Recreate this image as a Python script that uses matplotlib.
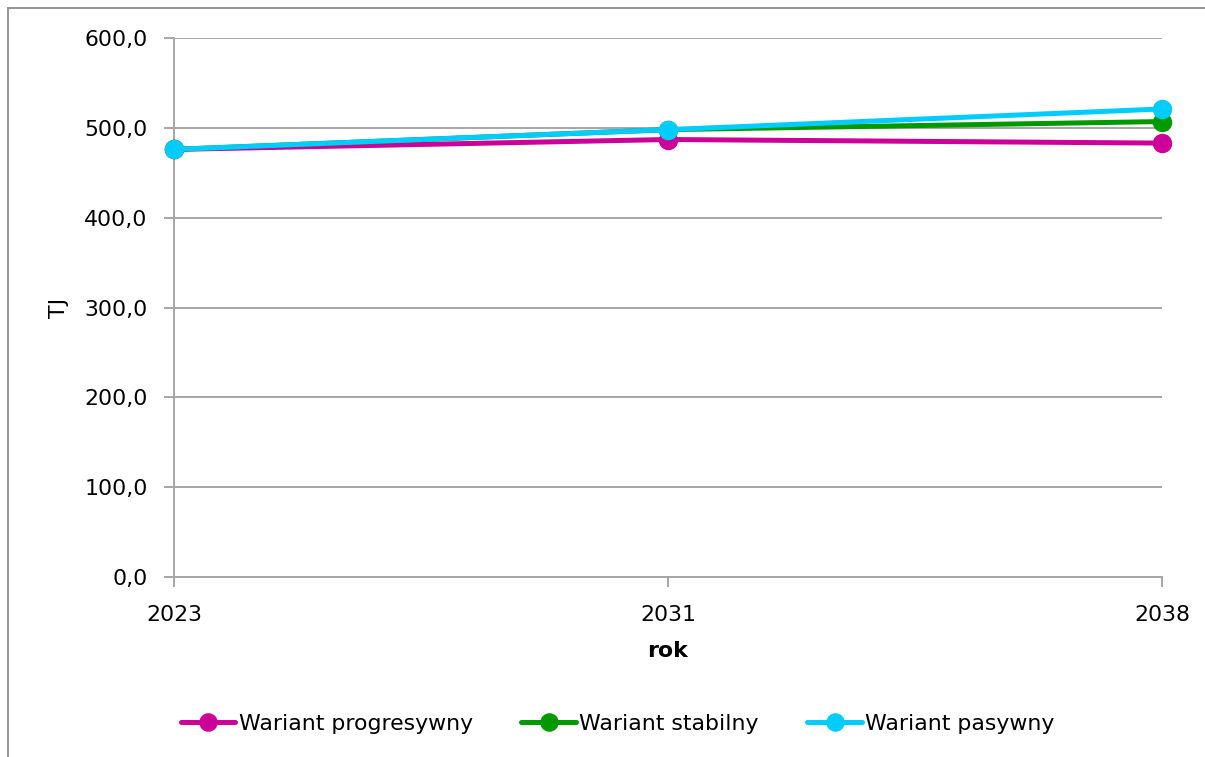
import matplotlib
matplotlib.use('Agg')
import matplotlib.pyplot as plt
from matplotlib.lines import Line2D

years = ['2023', '2031', '2038']
progresywny = [476.0, 487.0, 483.0]
stabilny = [476.0, 498.0, 507.0]
pasywny = [476.0, 498.0, 521.0]
series_names = ['Wariant progresywny', 'Wariant stabilny', 'Wariant pasywny']
colors = ['#CC0099', '#009900', '#00CCFF']
y_ticks = [0, 100, 200, 300, 400, 500, 600]

plt.rcParams['font.family'] = ['DejaVu Sans']
grid_col = '#A6A6A6'
fs = 15.8

fig = plt.figure(figsize=(12.05, 7.57), dpi=100)
ax = fig.add_axes([174 / 1205, 1 - 577 / 757, (1162 - 174) / 1205, (577 - 38) / 757])

x = list(range(len(years)))
for vals, name, col in zip([progresywny, stabilny, pasywny], series_names, colors):
    ax.plot(x, vals, color=col, lw=3.6, marker='o', markersize=13,
            label=name, solid_capstyle='round', zorder=3, clip_on=False)

ax.set_xlim(0, len(years) - 1)
ax.set_ylim(0, 600)
ax.set_xticks(x)
ax.set_xticklabels(years)
ax.set_yticks(y_ticks)
ax.set_yticklabels([('%.1f' % v).replace('.', ',') for v in y_ticks])
ax.yaxis.grid(True, color=grid_col, lw=1.4)
ax.set_axisbelow(True)

for s in ['top', 'right']:
    ax.spines[s].set_visible(False)
for s in ['left', 'bottom']:
    ax.spines[s].set_color(grid_col)
    ax.spines[s].set_linewidth(1.4)
ax.tick_params(axis='both', colors=grid_col, length=7, width=1.4, labelcolor='black', labelsize=fs)
ax.tick_params(axis='x', pad=13)
ax.tick_params(axis='y', pad=12)

ax.set_ylabel('TJ', fontsize=fs, labelpad=11)
ax.set_xlabel('rok', fontsize=fs, fontweight='bold', labelpad=12)

ax.legend(loc='center', bbox_to_anchor=(0.449, -0.273), ncol=3, frameon=False,
          fontsize=fs, handlelength=2.5, handletextpad=0.15, columnspacing=2.2,
          markerscale=0.95)

# outer chart border (top and left edges)
fig.add_artist(Line2D([8 / 1205, 1.0], [1 - 8 / 757, 1 - 8 / 757],
                      transform=fig.transFigure, color='#8C8C8C', lw=1.3))
fig.add_artist(Line2D([8 / 1205, 8 / 1205], [0.0, 1 - 8 / 757],
                      transform=fig.transFigure, color='#8C8C8C', lw=1.3))

fig.savefig('out.png', dpi=100)
plt.close('all')
